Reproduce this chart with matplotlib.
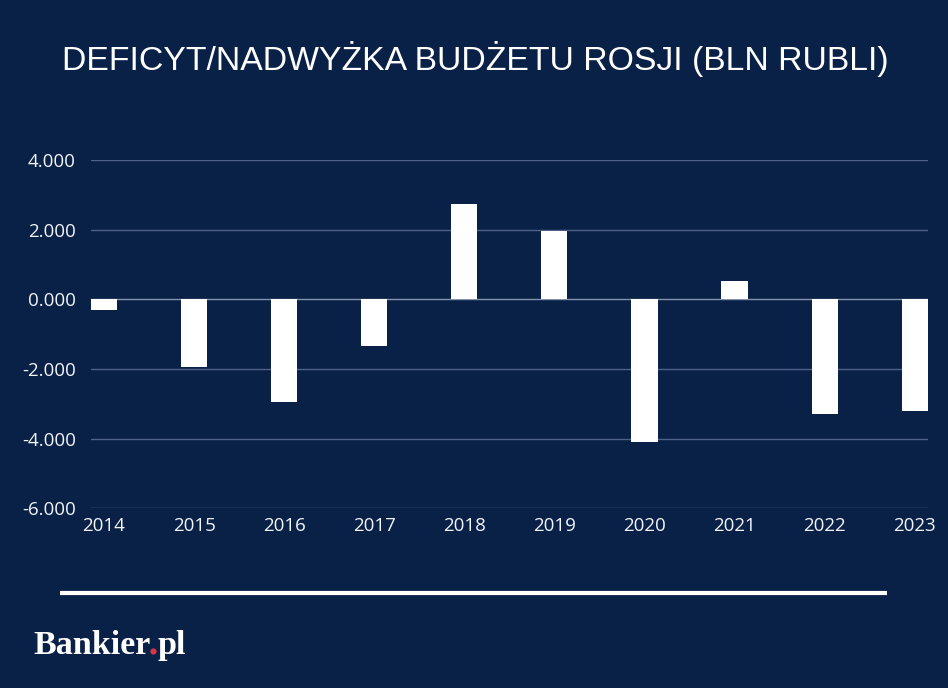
import matplotlib
matplotlib.use("Agg")
import matplotlib.pyplot as plt
from matplotlib.lines import Line2D

years = ["2014", "2015", "2016", "2017", "2018", "2019", "2020", "2021", "2022", "2023"]
balance = [-316, -1951, -2956, -1331, 2726, 1969, -4086, 516, -3283, -3214]
yticks = [-6000, -4000, -2000, 0, 2000, 4000]
ytick_labels = ["-6.000", "-4.000", "-2.000", "0.000", "2.000", "4.000"]
title = "DEFICYT/NADWYŻKA BUDŻETU ROSJI (BLN RUBLI)"

BG = "#0a2147"
W, H = 948, 688
fig = plt.figure(figsize=(W / 100, H / 100), dpi=100, facecolor=BG)

left, right, top, bottom = 91, 927.7, 160, 508.3
ax = fig.add_axes([left / W, 1 - bottom / H, (right - left) / W, (bottom - top) / H])
ax.set_facecolor(BG)

x = list(range(len(years)))
bw = 0.29
ax.bar(x, balance, width=bw, color="white", zorder=3)
ax.set_xlim(-bw / 2, len(years) - 1 + bw / 2)
ax.set_ylim(-6000, 4000)
ax.set_yticks(yticks)
ax.set_yticklabels(ytick_labels)
ax.set_xticks(x)
ax.set_xticklabels(years)
for t in yticks:
    ax.axhline(t, color="#4d6285" if t != 0 else "#8392ad", lw=1.0, zorder=1)
for s in ax.spines.values():
    s.set_visible(False)
ax.tick_params(length=0, colors="white", labelsize=13.5, pad=0)
ax.tick_params(axis="y", pad=11)
ax.tick_params(axis="x", pad=6)
for lab in ax.get_xticklabels() + ax.get_yticklabels():
    lab.set_fontfamily(["Open Sans", "DejaVu Sans"])
    lab.set_color("#f2f4f8")

fig.text(475 / W, 1 - 59 / H, title, ha="center", va="center", color="white",
         fontsize=24.3, fontfamily="Liberation Sans")

fig.add_artist(Line2D([60 / W, 887 / W], [1 - 592.7 / H, 1 - 592.7 / H],
                      color="white", lw=3, solid_capstyle="butt"))

# logo
fig.canvas.draw()
r = fig.canvas.get_renderer()
ly = 1 - 654 / H
fs = 24.5
t1 = fig.text(33 / W, ly, "Bankier", color="white", fontsize=fs, fontweight="bold",
              fontfamily="Liberation Serif", va="baseline")
bb = t1.get_window_extent(r)
dot_x = bb.x1 + 3
fig.add_artist(Line2D([dot_x / W], [ly + 3 / H], marker="o", markersize=4.5,
                      color="#d9344a", markeredgewidth=0, linestyle="none"))
fig.text((dot_x + 4) / W, ly, "pl", color="white", fontsize=fs, fontweight="bold",
         fontfamily="Liberation Serif", va="baseline")

fig.savefig("out.png", dpi=100, facecolor=BG)
